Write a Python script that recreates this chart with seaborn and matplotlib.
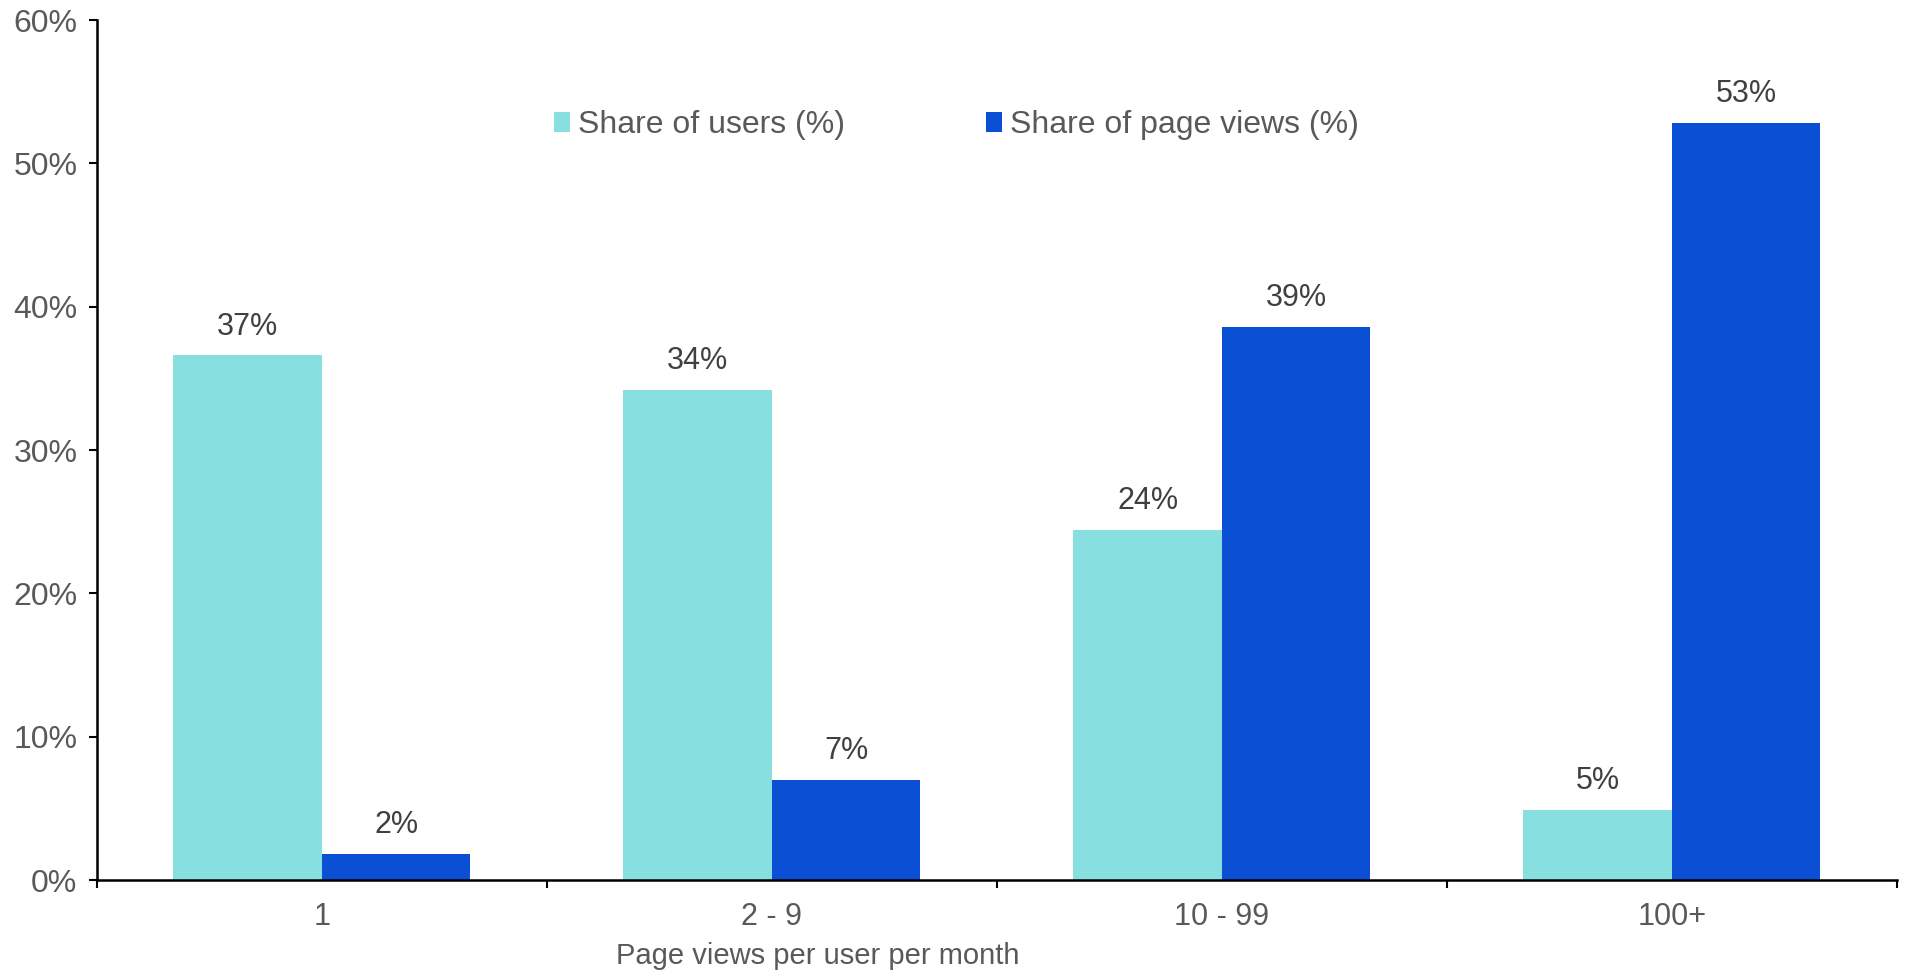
import matplotlib
matplotlib.use("Agg")
import matplotlib.pyplot as plt
from matplotlib.patches import Patch
from matplotlib.ticker import FuncFormatter, MultipleLocator
import pandas as pd
import seaborn as sns

categories = ["1", "2 - 9", "10 - 99", "100+"]
series_names = ["Share of users (%)", "Share of page views (%)"]
share_users = [36.6, 34.2, 24.4, 4.9]
share_views = [1.8, 7.0, 38.6, 52.8]
y_ticks = [0, 10, 20, 30, 40, 50, 60]
x_title = "Page views per user per month"

colors = ["#88DFDF", "#0B4FD4"]

sns.set_theme(style="white")
plt.rcParams["font.family"] = ["Liberation Sans", "DejaVu Sans"]

df = pd.DataFrame({
    "category": categories * 2,
    "series": [series_names[0]] * len(categories) + [series_names[1]] * len(categories),
    "value": share_users + share_views,
})

fig = plt.figure(figsize=(19.08, 9.71), dpi=100)
ax = fig.add_axes([0.0508, 0.0937, 0.9434, 0.8857])

sns.barplot(data=df, x="category", y="value", hue="series", order=categories,
            hue_order=series_names, palette=colors, width=0.66, saturation=1,
            linewidth=0, ax=ax, legend=False)

# value labels above every bar
for container in ax.containers:
    for bar in container:
        h = bar.get_height()
        ax.annotate(f"{h:.0f}%", (bar.get_x() + bar.get_width() / 2, h),
                    xytext=(0, 10), textcoords="offset points",
                    ha="center", va="bottom", fontsize=22, color="#404040")

ax.set_xlim(-0.5, len(categories) - 0.5)
ax.set_ylim(0, 60)
ax.set_yticks(y_ticks)
ax.yaxis.set_major_formatter(FuncFormatter(lambda v, p: f"{v:.0f}%"))
ax.tick_params(axis="y", labelsize=23, labelcolor="#595959", length=6, width=1.5,
               color="black", direction="out", left=True, pad=8)

# category labels at the centres, small tick marks on the boundaries
ax.set_xticks(range(len(categories)))
ax.set_xticklabels(categories, fontsize=22, color="#595959")
ax.tick_params(axis="x", length=0, pad=16)
ax.xaxis.set_minor_locator(MultipleLocator(1, offset=0.5))
ax.tick_params(axis="x", which="minor", length=6, width=1.5, color="black",
               direction="out", bottom=True)

ax.set_xlabel(x_title, fontsize=21, color="#595959")
ax.xaxis.set_label_coords(0.4006, -0.088)
ax.xaxis.label.set_verticalalignment("center")
ax.set_ylabel("")

for side in ["top", "right"]:
    ax.spines[side].set_visible(False)
for side in ["left", "bottom"]:
    ax.spines[side].set_color("black")
    ax.spines[side].set_linewidth(1.8)

handles = [Patch(facecolor=c, edgecolor="none") for c in colors]
ax.legend(handles, series_names, loc="center left", bbox_to_anchor=(0.238, 0.878),
          ncol=2, frameon=False, handlelength=0.5, handleheight=0.6,
          handletextpad=0.25, columnspacing=4.4,
          prop={"size": 23}, labelcolor="#595959")

fig.savefig("out.png", dpi=100, facecolor="white")
